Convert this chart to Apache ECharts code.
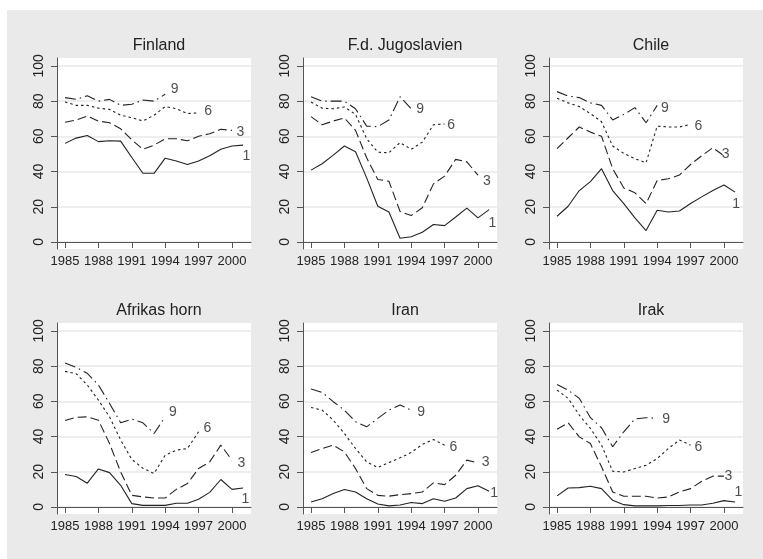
<!DOCTYPE html>
<html>
<head>
<meta charset="utf-8">
<script src="https://cdn.jsdelivr.net/npm/echarts@6/dist/echarts.min.js"></script>
<style>
  html, body { margin: 0; padding: 0; background: #fff; }
  #bg { position: absolute; left: 7px; top: 10px; width: 756px; height: 549px; background: #eaeaea; }
  #chart { position: absolute; left: 0; top: 0; width: 763px; height: 559px; }
</style>
</head>
<body>
<div id="bg"></div>
<div id="chart"></div>
<script>
const years = [1985, 1986, 1987, 1988, 1989, 1990, 1991, 1992, 1993, 1994, 1995, 1996, 1997, 1998, 1999, 2000, 2001];
const yearTicks = [1985, 1988, 1991, 1994, 1997, 2000];
const valueTicks = [0, 20, 40, 60, 80, 100];
const lineNames = ['1', '3', '6', '9'];

// Finland
const fin1 = [56, 59, 60.5, 57, 57.5, 57.3, 48, 39, 39, 47.6, 46, 44, 46, 49, 52.7, 54.5, 55];
const fin3 = [68, 69.3, 71.5, 68.7, 67.7, 64.3, 58, 52.6, 55, 58.6, 58.6, 57.5, 60, 61.5, 64, 63.4];
const fin6 = [79.5, 77.6, 77.6, 76, 75.3, 72, 70.6, 68.7, 72, 76.9, 75.7, 72.9, 73.4];
const fin9 = [82, 81, 83, 80, 81, 77.6, 78.2, 80.6, 80, 83.9];
const finLab = [[2001.3, 48.8], [2000.75, 62.4], [1997.85, 74.4], [1994.85, 86.7]];

// F.d. Jugoslavien
const yug1 = [40.8, 44.4, 49.3, 54.5, 51.2, 36.4, 20.3, 17, 2.1, 3, 5.5, 9.9, 9.3, 14.2, 19.2, 13.7, 18.4];
const yug3 = [71.2, 66.6, 68.7, 70.4, 63.4, 47.8, 35.5, 34.5, 17.3, 15, 19.4, 33, 37.4, 46.9, 45.5, 38];
const yug6 = [79.5, 76, 75.7, 76.7, 72.5, 58.6, 51, 50.7, 56.4, 52.6, 56.7, 66.6, 67];
const yug9 = [82.5, 80, 80, 80, 75.7, 65.8, 65.5, 69.3, 82.5, 75.7];
const yugLab = [[2001.3, 10.8], [2000.8, 34.5], [1997.6, 66.2], [1994.8, 75.3]];

// Chile
const chi1 = [14.6, 20.3, 29.2, 34.3, 41.6, 29.2, 21.8, 13.7, 6.5, 18, 17, 17.6, 21.8, 25.6, 29.2, 32.4, 28.3];
const chi3 = [53, 59.2, 65.3, 62.4, 60, 41.6, 30.7, 27.9, 21.8, 34.9, 35.9, 38, 44, 49, 53.5, 49];
const chi6 = [81.6, 79, 76.9, 72.9, 68.3, 54.5, 50.3, 47.3, 45, 65.8, 65.3, 65.3, 66.8];
const chi9 = [85.4, 82.9, 82, 79, 77.6, 69.3, 72.5, 76.3, 67.7, 77.6];
const chiLab = [[2001.1, 21.3], [2000.15, 49.7], [1997.7, 65.8], [1994.7, 76.3]];

// Afrikas horn
const afr1 = [18.4, 17.3, 13.5, 21.6, 19.5, 12.3, 1.9, 0.9, 0.9, 0.9, 2.1, 2.1, 4.4, 8.3, 15.6, 10, 10.8];
const afr3 = [49.1, 50.9, 51.2, 49.3, 36, 19.9, 6.6, 5.7, 5.1, 5.1, 10, 13.3, 21.8, 25.6, 35.1, 26.6];
const afr6 = [77, 75.7, 69.3, 60.7, 51.2, 38, 27, 22, 19, 29.4, 32.3, 33.2, 42.7];
const afr9 = [81.8, 79.3, 75.9, 69.3, 58.8, 47.8, 49.9, 47.8, 41.7, 51.2];
const afrLab = [[2001.2, 4.7], [2000.85, 24.7], [1997.8, 45], [1994.7, 53.7]];

// Iran
const ira1 = [2.8, 4.7, 7.6, 9.9, 8.5, 4.7, 1.7, 0.6, 1.1, 2.5, 1.9, 4.7, 3.2, 5.1, 10.4, 12, 8.9];
const ira3 = [30.9, 33.2, 35.1, 31.3, 21.8, 10.4, 6.6, 6.1, 7, 7.6, 8.5, 13.7, 12.7, 18, 26.6, 25];
const ira6 = [56.5, 55, 49.3, 41.7, 33.2, 25.6, 22.4, 25.2, 27.9, 30.9, 35.5, 38.3, 35.1];
const ira9 = [67, 65.1, 59.8, 55, 48.4, 45.5, 50.3, 55, 57.9, 55];
const iraLab = [[2001.45, 7.6], [2000.7, 25.2], [1997.8, 34.2], [1994.9, 53.7]];

// Irak
const irq1 = [6.3, 10.8, 11, 11.8, 10.4, 3.8, 1.3, 0.6, 0.6, 0.6, 0.8, 0.8, 1.1, 1.1, 2.1, 3.6, 2.8];
const irq3 = [44.2, 47.8, 39.8, 36, 22.8, 8.5, 6.1, 6.1, 6.1, 5.1, 5.7, 8.5, 10.4, 14.6, 17.5, 17.5];
const irq6 = [66.4, 61.7, 52.2, 44.6, 35.1, 20.3, 19.9, 21.8, 23.7, 27.5, 33.2, 38, 35.1];
const irq9 = [69.6, 66.4, 61.7, 50.7, 45, 34.2, 42.7, 50, 50.7, 50.3];
const irqLab = [[2001.3, 8.2], [2000.4, 17.5], [1997.7, 34.2], [1994.8, 49.9]];

const panels = [
  { title: 'Finland', lines: [fin1, fin3, fin6, fin9], labels: finLab },
  { title: 'F.d. Jugoslavien', lines: [yug1, yug3, yug6, yug9], labels: yugLab },
  { title: 'Chile', lines: [chi1, chi3, chi6, chi9], labels: chiLab },
  { title: 'Afrikas horn', lines: [afr1, afr3, afr6, afr9], labels: afrLab },
  { title: 'Iran', lines: [ira1, ira3, ira6, ira9], labels: iraLab },
  { title: 'Irak', lines: [irq1, irq3, irq6, irq9], labels: irqLab }
];

const FONT = '"Liberation Sans", Arial, sans-serif';
const INK = '#222';
const dashes = ['solid', [9, 4], [2.5, 3], [11, 4, 1.5, 4]];
const colLeft = [57, 303, 549];
const rowTop = [58, 323];
const gridW = 194;
const gridH = 191;

const grid = [], xAxis = [], yAxis = [], title = [], series = [];

panels.forEach((p, i) => {
  const left = colLeft[i % 3];
  const top = rowTop[Math.floor(i / 3)];
  grid.push({
    left, top, width: gridW, height: gridH,
    show: true, backgroundColor: '#fff', borderWidth: 0
  });
  title.push({
    text: p.title,
    left: left + gridW / 2, top: top - 25,
    textAlign: 'center',
    textStyle: { fontFamily: FONT, fontSize: 16, fontWeight: 'normal', color: INK }
  });
  xAxis.push({
    gridIndex: i, type: 'value', min: 1984.28, max: 2001.71,
    axisLine: { show: true, lineStyle: { color: '#555', width: 1 } },
    axisTick: { show: true, customValues: yearTicks, length: 6, lineStyle: { color: '#555' } },
    axisLabel: {
      customValues: yearTicks, formatter: v => String(v), hideOverlap: false,
      showMinLabel: true, showMaxLabel: true,
      fontFamily: FONT, fontSize: 13, color: INK, margin: 6
    },
    splitLine: { show: false }
  });
  yAxis.push({
    gridIndex: i, type: 'value', min: -4, max: 104.5,
    axisLine: { show: true, lineStyle: { color: '#555', width: 1 } },
    axisTick: { show: true, customValues: valueTicks, length: 6, lineStyle: { color: '#555' } },
    axisLabel: {
      customValues: valueTicks, formatter: v => String(v), rotate: 90,
      showMinLabel: true, showMaxLabel: true,
      fontFamily: FONT, fontSize: 14, color: INK, margin: 11
    },
    splitLine: { show: true, lineStyle: { color: '#e8e8e8', width: 1.5 } }
  });
  p.lines.forEach((vals, k) => {
    series.push({
      type: 'line', name: lineNames[k], xAxisIndex: i, yAxisIndex: i,
      data: vals.map((v, j) => [years[j], v]),
      symbol: 'none', silent: true,
      lineStyle: { color: INK, width: 1.1, type: dashes[k] }
    });
  });
  series.push({
    type: 'scatter', xAxisIndex: i, yAxisIndex: i,
    symbolSize: 0, silent: true,
    data: p.labels.map((pt, k) => ({ value: pt, name: lineNames[k] })),
    label: {
      show: true, position: 'inside', formatter: '{b}',
      fontFamily: FONT, fontSize: 14, color: INK
    }
  });
});

const chart = echarts.init(document.getElementById('chart'), null, { renderer: 'canvas' });
chart.setOption({ animation: false, title, grid, xAxis, yAxis, series });
</script>
</body>
</html>
